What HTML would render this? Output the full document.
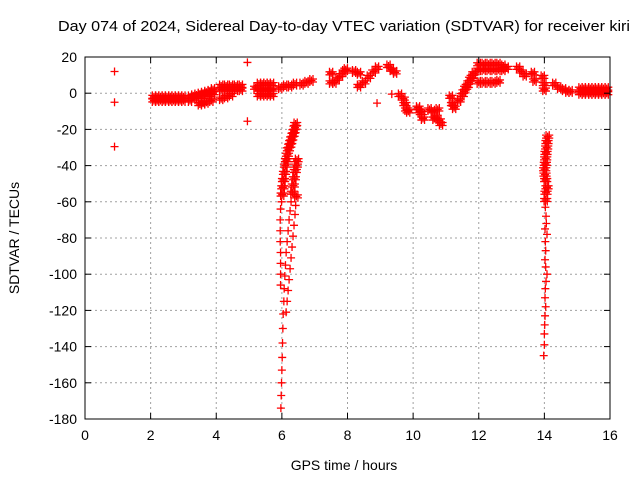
<!DOCTYPE html>
<html><head><meta charset="utf-8"><style>
body{margin:0;background:#fff}
svg{display:block;font-family:"Liberation Sans",sans-serif}
</style></head><body>
<svg id="chart" width="640" height="480" viewBox="0 0 640 480" xmlns="http://www.w3.org/2000/svg">
<rect width="640" height="480" fill="#fff"/>
<text x="58" y="31" font-size="15" textLength="572" lengthAdjust="spacingAndGlyphs">Day 074 of 2024, Sidereal Day-to-day VTEC variation (SDTVAR) for receiver kiri</text>
<g id="grid"></g>
<g id="marks"></g>
<rect x="85" y="57" width="525" height="362" fill="none" stroke="#000" stroke-width="1"/>
<g id="ticks"></g>
<text x="344" y="470" font-size="14" text-anchor="middle">GPS time / hours</text>
<text transform="translate(19,238) rotate(-90)" font-size="14" text-anchor="middle">SDTVAR / TECUs</text>
</svg>
<script>
const xTicks = [0,2,4,6,8,10,12,14,16];
const yTicks = [20,0,-20,-40,-60,-80,-100,-120,-140,-160,-180];
const outliers = [[0.9,12],[0.9,-5],[0.9,-29.5],[4.95,17],[4.95,-15.5],[8.9,-5.5],[9.4,11.5],[9.35,-0.5]];
const points = [
[2.1,-2],[2.1,-4],[2.2,-2],[2.2,-4],[2.3,-2],[2.3,-4],[2.4,-2],[2.4,-4],[2.5,-2],[2.5,-4],[2.6,-2],[2.6,-4],[2.7,-2],[2.7,-4],[2.8,-2],[2.8,-4],[2.9,-2],[2.9,-4],[3.0,-2],[3.0,-4],
[3.2,-2],[3.2,-4],[3.3,-1.5],[3.4,-1],[3.4,-3],[3.5,-0.5],[3.6,0],[3.6,-2],[3.7,0.5],[3.8,1],[3.8,-1],[3.9,2],[3.9,0],[3.5,-6],[3.6,-5.5],[3.7,-5],[3.85,-4],
[4.15,2],[4.15,4],[4.3,2],[4.3,4],[4.45,2],[4.45,4],[4.6,2],[4.6,4],[4.75,2],[4.75,4],[4.15,-3],[4.3,-2],[4.45,-1],
[5.2,3],[5.3,5],[5.3,2],[5.3,-1],[5.4,5],[5.4,2],[5.4,-1],[5.5,5],[5.5,2],[5.5,-1],[5.6,5],[5.6,2],[5.6,-1],[5.7,5],[5.7,2],[5.7,-1],
[5.95,3],[6.1,4],[6.25,4],[6.4,5],[6.6,5],[6.75,6],[6.9,7],
[7.5,11],[7.5,6],[7.6,6],[7.7,8],[7.8,10],[7.9,12],[7.95,13],
[8.2,12],[8.35,11],[8.35,4],[8.5,6],[8.65,9],[8.8,12],[8.9,14],
[9.25,15],[9.35,13],[9.45,11.5],
[9.6,-1],[9.7,-3],[9.75,-6],[9.8,-9],[9.85,-10],
[10.15,-8],[10.25,-11],[10.3,-14],[10.2,-10],
[10.5,-9],[10.6,-10],[10.7,-13],[10.8,-15],[10.85,-17],[10.75,-9],[10.65,-14],
[11.15,-2],[11.2,-6],[11.25,-8],
[11.4,-4],[11.5,-1],[11.6,3],[11.7,6],[11.8,9],[11.85,11],[11.55,1],[11.65,4],[11.75,8],
[12.0,16],[12.0,13],[12.15,16],[12.15,13],[12.3,16],[12.3,13],[12.45,16],[12.45,13],[12.6,16],[12.6,13],[12.75,15],[12.75,13],[12.85,14],
[12.0,6],[12.15,6],[12.3,6],[12.45,6],[12.6,6.5],
[13.2,14],[13.3,12],[13.4,10],[13.65,11],[13.7,7],[13.95,9],[14.0,5],[14.0,2],
[14.3,5],[14.45,3],[14.6,2],[14.7,1],[14.8,1],
[15.1,2.5],[15.1,0],[15.2,2.5],[15.2,0],[15.3,2.5],[15.3,0],[15.4,2.5],[15.4,0],[15.5,2.5],[15.5,0],[15.6,2.5],[15.6,0],[15.7,2.5],[15.7,0],[15.8,2.5],[15.8,0],[15.9,2.5],[15.9,0],
[6.42,-17],[6.40,-19],[6.37,-21],[6.34,-23],[6.30,-25],[6.27,-27],[6.24,-29],[6.20,-31],[6.17,-34],[6.14,-37],[6.11,-40],[6.08,-44],[6.05,-48],[6.03,-52],[6.01,-56],[5.99,-60],
[6.46,-37],[6.44,-40],[6.41,-43],[6.38,-47],[6.35,-51],[6.32,-55],[6.28,-60],[6.25,-65],[6.22,-70],[6.19,-76],[6.16,-82],[6.13,-88],[6.11,-95],[6.09,-101],[6.07,-108],[6.06,-115],[6.04,-122],[6.03,-130],[6.02,-138],[6.01,-146],[6.00,-153],[5.99,-160],[5.98,-167],[5.97,-174],
[6.44,-57],[6.42,-62],[6.40,-67],[6.37,-73],[6.34,-79],[6.31,-85],[6.28,-91],[6.25,-97],[6.22,-103],[6.19,-109],[6.16,-115],[6.13,-121],
[5.96,-64],[5.95,-70],[5.95,-76],[5.95,-82],[5.96,-88],[5.96,-94],[5.96,-100],[5.96,-106],
[14.1,-24],[14.08,-27],[14.07,-30],[14.05,-33],[14.04,-36],[14.03,-39],[14.01,-42],[14.02,-45],[14.04,-48],[14.08,-52],[14.05,-55],[14.04,-59],[14.03,-63],[14.05,-68],[14.06,-72],[14.02,-75],[14.08,-78],[14.03,-82],[14.04,-87],[14.02,-92],[14.04,-96],[14.08,-100],[14.05,-104],[14.03,-108],[14.02,-113],[14.04,-118],[14.02,-123],[14.01,-128],[14.0,-133],[14.0,-139],[13.98,-145]
];
const NS='http://www.w3.org/2000/svg';
const L=85,R=610,T=57,B=419;
function xs(t){return L+(t-0)/(16-0)*(R-L);}
function ys(v){return T+(20-v)/(20-(-180))*(B-T);}
function mk(tag,a,parent){const e=document.createElementNS(NS,tag);for(const k in a)e.setAttribute(k,a[k]);parent.appendChild(e);return e;}
const grid=document.getElementById('grid'),ticks=document.getElementById('ticks'),marks=document.getElementById('marks');
xTicks.forEach(t=>{
  const x=xs(t);
  if(t>0&&t<16){const g=mk('line',{x1:x,y1:T,x2:x,y2:B,stroke:'#a0a0a0','stroke-dasharray':'2,3'},grid);
  
  }
  mk('line',{x1:x,y1:B,x2:x,y2:B-6,stroke:'#000'},ticks);
  mk('line',{x1:x,y1:T,x2:x,y2:T+6,stroke:'#000'},ticks);
  const lb=mk('text',{x:x,y:B+21,'font-size':14,'text-anchor':'middle'},ticks);lb.textContent=t;
  
  
});
yTicks.forEach(v=>{
  const y=ys(v);
  if(v<20&&v>-180){const g=mk('line',{x1:L,y1:y,x2:R,y2:y,stroke:'#a0a0a0','stroke-dasharray':'2,3'},grid);
  
  }
  mk('line',{x1:L,y1:y,x2:L+6,y2:y,stroke:'#000'},ticks);
  mk('line',{x1:R,y1:y,x2:R-6,y2:y,stroke:'#000'},ticks);
  const lb=mk('text',{x:L-8,y:y+5,'font-size':14,'text-anchor':'end'},ticks);lb.textContent=v;
  
  
});
function cross(x,y){return `M${x-4},${y}H${x+4}M${x},${y-4}V${y+4}`;}
const dense=[[-1.6,-1.5],[1.6,-1.5],[0,0],[-1.6,1.5],[1.6,1.5]];
points.forEach(p=>{
  const x=xs(p[0]),y=ys(p[1]);
  let d='';
  if(p[1]>-60){dense.forEach(o=>{d+=cross(x+o[0],y+o[1]);});}
  else{d=cross(x,y);}
  const m=mk('path',{d:d,stroke:'#ff0000','stroke-width':1.3,fill:'none'},marks);
  
  
});
outliers.forEach(p=>{
  const m=mk('path',{d:cross(xs(p[0]),ys(p[1])),stroke:'#ff0000','stroke-width':1.3,fill:'none'},marks);
  
  
});
</script>
</body></html>
